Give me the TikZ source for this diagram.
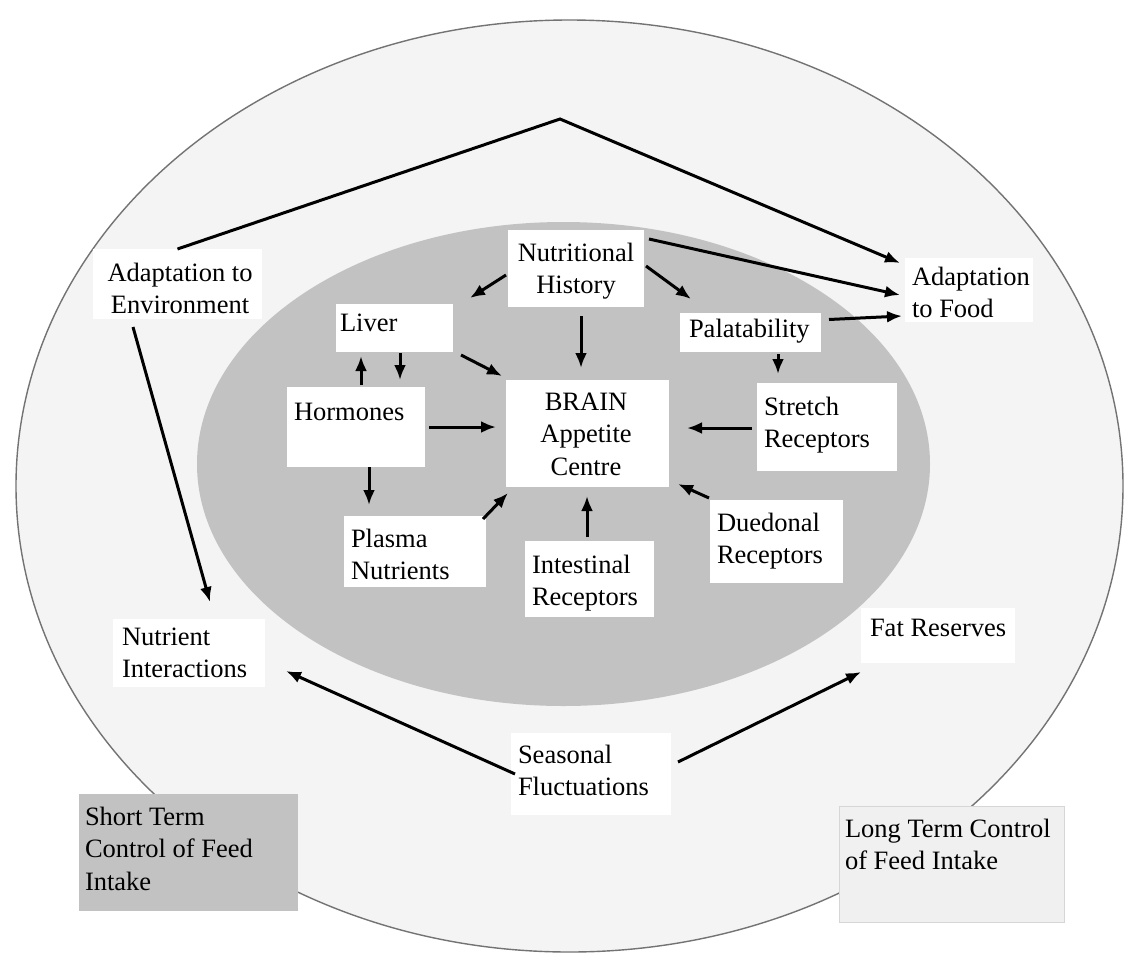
\documentclass[tikz,border=0pt]{standalone}
\usepackage{fontspec}
\setmainfont{Liberation Serif}
\usetikzlibrary{arrows.meta}
\definecolor{ringfill}{gray}{0.955}
\definecolor{corefill}{gray}{0.76}
\definecolor{rimline}{gray}{0.45}
\definecolor{stfill}{gray}{0.76}
\definecolor{ltfill}{gray}{0.94}
\definecolor{ltline}{gray}{0.84}
\begin{document}
\begin{tikzpicture}[x=1pt,y=-1pt,
  box/.style={fill=white,draw=none,inner sep=0pt,outer sep=0pt},
  txt/.style={inner sep=0pt,outer sep=0pt,anchor=north west,align=left,
    font=\fontsize{26.5}{32.5}\selectfont},
  ctxt/.style={txt,anchor=north,align=center},
  arr/.style={line width=3pt,-{Latex[length=15pt,width=12pt]}}]
\useasboundingbox (0,0) rectangle (1125,954);
\fill[white] (0,0) rectangle (1125,954);
% rings
\draw[fill=ringfill,draw=rimline,line width=1.4pt] (569.5,486) ellipse [x radius=553.5, y radius=466];
\fill[corefill] (563.5,464) ellipse [x radius=366.5, y radius=242];
% boxes
\node[box,minimum width=136pt,minimum height=77pt] (nh) at (576,268.5) {};
\node[box,minimum width=117pt,minimum height=48pt] (lv) at (394.5,328) {};
\node[box,minimum width=141pt,minimum height=39pt] (pa) at (750.5,332.5) {};
\node[box,minimum width=138pt,minimum height=80pt] (ho) at (356,427) {};
\node[box,minimum width=163pt,minimum height=107pt] (br) at (587.5,433.5) {};
\node[box,minimum width=140pt,minimum height=88pt] (sr) at (827,427) {};
\node[box,minimum width=142pt,minimum height=71pt] (pn) at (415,551.5) {};
\node[box,minimum width=129pt,minimum height=76pt] (ir) at (589.5,579) {};
\node[box,minimum width=133pt,minimum height=83pt] (dr) at (776.5,541.5) {};
\node[box,minimum width=169pt,minimum height=70pt] (ae) at (177.5,284) {};
\node[box,minimum width=128pt,minimum height=64pt] (af) at (969,290) {};
\node[box,minimum width=152pt,minimum height=68pt] (ni) at (189,653) {};
\node[box,minimum width=154pt,minimum height=55pt] (fr) at (938,635.5) {};
\node[box,minimum width=160pt,minimum height=82pt] (sf) at (591,774) {};
\node[box,fill=stfill,minimum width=219pt,minimum height=117pt] (st) at (188.5,852.5) {};
\node[box,fill=ltfill,draw=ltline,line width=1pt,minimum width=225pt,minimum height=116pt] (lt) at (951.5,864) {};
% texts
\node[ctxt] (nh-t) at (576,238.5) {\strut Nutritional\\History};
\node[txt] (lv-t) at (340,308.5) {\strut Liver};
\node[txt] (pa-t) at (689,314.5) {\strut Palatability};
\node[txt] (ho-t) at (294,397.5) {\strut Hormones};
\node[ctxt] (br-t) at (586,387.5) {\strut BRAIN\\Appetite\\Centre};
\node[txt] (sr-t) at (764,392.5) {\strut Stretch\\Receptors};
\node[txt] (pn-t) at (351,524.5) {\strut Plasma\\Nutrients};
\node[txt] (ir-t) at (532,550.5) {\strut Intestinal\\Receptors};
\node[txt] (dr-t) at (717,508.5) {\strut Duedonal\\Receptors};
\node[ctxt] (ae-t) at (180,258.5) {\strut Adaptation to\\Environment};
\node[txt] (af-t) at (912,262.5) {\strut Adaptation\\to Food};
\node[txt] (ni-t) at (122,622.5) {\strut Nutrient\\Interactions};
\node[txt] (fr-t) at (870,613.5) {\strut Fat Reserves};
\node[txt] (sf-t) at (518,740.5) {\strut Seasonal\\Fluctuations};
\node[txt] (st-t) at (85,802.5) {\strut Short Term\\Control of Feed\\Intake};
\node[txt] (lt-t) at (845,814.5) {\strut Long Term Control\\of Feed Intake};
% connectors
\coordinate (apex) at (560,119);
\draw[arr] (ae.north) -- (apex) -- ([xshift=-5pt,yshift=-5pt]af.north west);
\draw[arr] ([xshift=5pt,yshift=-9pt]nh.north east) -- ([xshift=-5pt,yshift=-5pt]af.west);
\draw[arr] ([xshift=8pt,yshift=13pt]pa.east) -- ([xshift=-3pt,yshift=-26pt]af.west);
\draw[arr] ([xshift=-2pt,yshift=-6.5pt]nh.west) -- ([xshift=17pt,yshift=6pt]lv.north east);
\draw[arr] ([xshift=2pt,yshift=2.5pt]nh.east) -- ([xshift=11pt,yshift=14pt]pa.north west);
\draw[arr] ([xshift=5pt,yshift=-9pt]nh.south) -- ([xshift=5pt,yshift=12pt]nh.south |- br.north);
\draw[arr] ([xshift=8pt,yshift=-3pt]lv.south east) -- ([xshift=-4pt,yshift=4pt]br.north west);
\draw[arr] ([xshift=5pt,yshift=2pt]ho.north) -- ([xshift=5pt,yshift=-4pt]ho.north |- lv.south);
\draw[arr] ([xshift=5.5pt,yshift=-1pt]lv.south) -- ([xshift=5.5pt,yshift=7pt]lv.south |- ho.north);
\draw[arr] ([xshift=4pt]ho.east) -- ([xshift=-10pt]ho.east -| br.west);
\draw[arr] ([xshift=13pt]ho.south) -- ([xshift=13pt,yshift=11pt]ho.south |- pn.north);
\draw[arr] ([xshift=-3pt,yshift=-3pt]pn.north east) -- ([xshift=2pt,yshift=-6pt]br.south west);
\draw[arr] ([xshift=-2.5pt,yshift=4pt]ir.north) -- ([xshift=-2.5pt,yshift=-9pt]ir.north |- br.south);
\draw[arr] ([xshift=-1pt,yshift=2pt]dr.north west) -- ([xshift=9pt,yshift=3pt]br.south east);
\draw[arr] ([xshift=-5pt,yshift=-1pt]sr.west) -- ([xshift=18pt,yshift=-1pt]sr.west -| br.east);
\draw[arr] ([xshift=27.5pt,yshift=-2pt]pa.south) -- ([xshift=27.5pt,yshift=9pt]pa.south |- sr.north);
\draw[arr] ([xshift=-44.5pt,yshift=-8pt]ae.south) -- ([xshift=21pt,yshift=17pt]ni.north);
\draw[arr] ([xshift=4pt]sf.west) -- ([xshift=21pt,yshift=16pt]ni.south east);
\draw[arr] ([xshift=7pt,yshift=12pt]sf.east) -- ([yshift=-9pt]fr.south west);
\end{tikzpicture}
\end{document}
